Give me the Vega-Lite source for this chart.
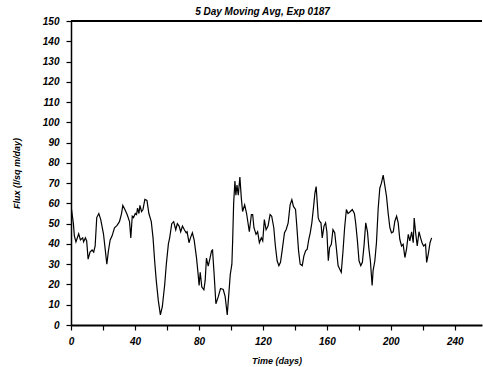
{
  "$schema": "https://vega.github.io/schema/vega-lite/v6.json",
  "autosize": {"type": "none"},
  "padding": {"left": 71, "top": 21, "right": 1, "bottom": 42},
  "width": 411,
  "height": 304,
  "background": "white",
  "title": {
    "text": "5 Day Moving Avg, Exp 0187",
    "font": "Liberation Sans",
    "fontSize": 10,
    "fontWeight": "bold",
    "fontStyle": "italic",
    "color": "black",
    "anchor": "middle",
    "dx": -14,
    "offset": -1
  },
  "config": {
    "view": {"stroke": null},
    "axis": {
      "domainColor": "black",
      "domainWidth": 1.5,
      "tickColor": "black",
      "tickWidth": 1.2,
      "tickSize": 5,
      "grid": false,
      "labelOverlap": false,
      "labelFlush": false,
      "labelFont": "Liberation Sans",
      "labelFontSize": 10,
      "labelFontWeight": "bold",
      "labelFontStyle": "italic",
      "labelColor": "black",
      "titleFont": "Liberation Sans",
      "titleFontSize": 9,
      "titleFontWeight": "bold",
      "titleFontStyle": "italic",
      "titleColor": "black"
    }
  },
  "data": {
    "values": [
      {"day": 0, "flux": 55}, {"day": 0.5, "flux": 56}, {"day": 1.5, "flux": 50},
      {"day": 2.1, "flux": 44}, {"day": 3.1, "flux": 41}, {"day": 4.8, "flux": 45},
      {"day": 5.9, "flux": 42}, {"day": 7.3, "flux": 43}, {"day": 7.9, "flux": 41},
      {"day": 9.0, "flux": 43}, {"day": 9.8, "flux": 41.5}, {"day": 10.7, "flux": 32.5},
      {"day": 11.9, "flux": 36}, {"day": 13.2, "flux": 37}, {"day": 14.2, "flux": 36},
      {"day": 15.1, "flux": 39}, {"day": 16.1, "flux": 53}, {"day": 17.4, "flux": 55},
      {"day": 18.6, "flux": 52}, {"day": 20.3, "flux": 45}, {"day": 21.5, "flux": 36.6},
      {"day": 22.4, "flux": 30}, {"day": 23.4, "flux": 36.6}, {"day": 24.5, "flux": 42},
      {"day": 25.7, "flux": 44}, {"day": 27.2, "flux": 48}, {"day": 28.7, "flux": 49},
      {"day": 30.3, "flux": 51}, {"day": 31.6, "flux": 55}, {"day": 32.4, "flux": 59},
      {"day": 33.7, "flux": 57}, {"day": 35.1, "flux": 54.5}, {"day": 36.6, "flux": 51},
      {"day": 37.4, "flux": 43}, {"day": 38.3, "flux": 53.7}, {"day": 39.1, "flux": 53},
      {"day": 40.2, "flux": 55}, {"day": 41.0, "flux": 54.5}, {"day": 41.6, "flux": 57.7},
      {"day": 42.5, "flux": 55}, {"day": 43.1, "flux": 59}, {"day": 44.1, "flux": 56},
      {"day": 45.0, "flux": 57}, {"day": 46.2, "flux": 62}, {"day": 47.5, "flux": 61.5},
      {"day": 48.7, "flux": 55}, {"day": 50.2, "flux": 51}, {"day": 51.3, "flux": 43},
      {"day": 52.3, "flux": 31.7}, {"day": 53.3, "flux": 22}, {"day": 54.6, "flux": 12},
      {"day": 55.9, "flux": 5}, {"day": 57.1, "flux": 9}, {"day": 58.6, "flux": 20},
      {"day": 59.6, "flux": 30}, {"day": 60.9, "flux": 40}, {"day": 61.7, "flux": 43},
      {"day": 63.0, "flux": 50}, {"day": 64.2, "flux": 51}, {"day": 65.5, "flux": 47},
      {"day": 66.5, "flux": 50}, {"day": 67.6, "flux": 48.8}, {"day": 68.6, "flux": 46},
      {"day": 69.7, "flux": 48.8}, {"day": 70.9, "flux": 47}, {"day": 72.0, "flux": 45.5},
      {"day": 72.6, "flux": 46}, {"day": 73.8, "flux": 40.6}, {"day": 74.7, "flux": 43},
      {"day": 75.9, "flux": 45.5}, {"day": 77.0, "flux": 42}, {"day": 78.5, "flux": 33},
      {"day": 79.5, "flux": 25}, {"day": 80.1, "flux": 19.5}, {"day": 80.8, "flux": 26},
      {"day": 81.8, "flux": 18.7}, {"day": 83.1, "flux": 17.4}, {"day": 83.9, "flux": 22},
      {"day": 84.7, "flux": 33}, {"day": 85.8, "flux": 29}, {"day": 86.8, "flux": 32.5},
      {"day": 87.9, "flux": 36.6}, {"day": 88.5, "flux": 37}, {"day": 89.5, "flux": 25},
      {"day": 90.6, "flux": 10.5}, {"day": 92.1, "flux": 14}, {"day": 93.5, "flux": 18},
      {"day": 95.2, "flux": 17.5}, {"day": 96.4, "flux": 14}, {"day": 97.7, "flux": 5},
      {"day": 98.7, "flux": 15.5}, {"day": 99.6, "flux": 25}, {"day": 100.6, "flux": 30},
      {"day": 101.1, "flux": 42}, {"day": 101.7, "flux": 60}, {"day": 102.5, "flux": 71},
      {"day": 103.1, "flux": 64}, {"day": 103.8, "flux": 69}, {"day": 104.6, "flux": 64},
      {"day": 105.6, "flux": 73}, {"day": 106.5, "flux": 62.6}, {"day": 107.3, "flux": 56},
      {"day": 108.6, "flux": 59.3}, {"day": 109.8, "flux": 55}, {"day": 111.5, "flux": 46},
      {"day": 112.8, "flux": 54.5}, {"day": 113.6, "flux": 54.5}, {"day": 114.4, "flux": 48},
      {"day": 115.7, "flux": 44.7}, {"day": 116.7, "flux": 46}, {"day": 117.8, "flux": 40.6},
      {"day": 119.0, "flux": 43}, {"day": 119.9, "flux": 41.5}, {"day": 120.9, "flux": 52},
      {"day": 122.0, "flux": 47}, {"day": 123.2, "flux": 48.8}, {"day": 124.5, "flux": 54.5},
      {"day": 125.5, "flux": 53.7}, {"day": 126.8, "flux": 48}, {"day": 127.8, "flux": 39},
      {"day": 128.9, "flux": 31.7}, {"day": 130.0, "flux": 29.3}, {"day": 131.0, "flux": 30.9},
      {"day": 132.0, "flux": 36.6}, {"day": 133.5, "flux": 45.5}, {"day": 134.5, "flux": 47},
      {"day": 135.8, "flux": 50.4}, {"day": 137.0, "flux": 59.3}, {"day": 138.1, "flux": 61.8},
      {"day": 139.1, "flux": 58.5}, {"day": 140.4, "flux": 57}, {"day": 141.2, "flux": 48.8},
      {"day": 142.3, "flux": 36.6}, {"day": 143.3, "flux": 30}, {"day": 144.6, "flux": 29.3},
      {"day": 145.6, "flux": 34}, {"day": 146.7, "flux": 36.6}, {"day": 147.7, "flux": 37.4},
      {"day": 148.7, "flux": 42.3}, {"day": 149.6, "flux": 45.5}, {"day": 150.6, "flux": 50.4},
      {"day": 151.9, "flux": 60}, {"day": 152.5, "flux": 65}, {"day": 153.3, "flux": 68.3},
      {"day": 154.0, "flux": 60}, {"day": 154.6, "flux": 52.8}, {"day": 155.4, "flux": 51.2},
      {"day": 156.3, "flux": 50.4}, {"day": 157.1, "flux": 43}, {"day": 158.2, "flux": 48.8},
      {"day": 159.2, "flux": 50.4}, {"day": 160.0, "flux": 46}, {"day": 160.9, "flux": 31.7},
      {"day": 161.7, "flux": 38.2}, {"day": 162.8, "flux": 39.8}, {"day": 163.8, "flux": 47},
      {"day": 164.9, "flux": 45.5}, {"day": 165.9, "flux": 38.2}, {"day": 167.0, "flux": 29.3},
      {"day": 168.0, "flux": 27.6}, {"day": 169.0, "flux": 26}, {"day": 170.1, "flux": 36.6},
      {"day": 171.1, "flux": 48}, {"day": 172.2, "flux": 57}, {"day": 173.2, "flux": 55},
      {"day": 174.7, "flux": 56}, {"day": 175.9, "flux": 57}, {"day": 177.2, "flux": 55},
      {"day": 178.0, "flux": 50.4}, {"day": 179.1, "flux": 41.5}, {"day": 180.1, "flux": 31.7},
      {"day": 181.2, "flux": 29.3}, {"day": 182.2, "flux": 30.9}, {"day": 183.3, "flux": 39.8},
      {"day": 184.3, "flux": 50.4}, {"day": 185.4, "flux": 46}, {"day": 186.2, "flux": 38.2},
      {"day": 187.2, "flux": 31.7}, {"day": 188.3, "flux": 19.5}, {"day": 188.9, "flux": 26.8},
      {"day": 190.0, "flux": 31.7}, {"day": 191.0, "flux": 40.6}, {"day": 192.1, "flux": 57.7},
      {"day": 193.1, "flux": 67.5}, {"day": 194.1, "flux": 70}, {"day": 195.2, "flux": 74},
      {"day": 196.0, "flux": 70}, {"day": 197.3, "flux": 63.4}, {"day": 198.3, "flux": 55.3},
      {"day": 199.4, "flux": 48}, {"day": 200.4, "flux": 45.5}, {"day": 201.5, "flux": 46},
      {"day": 202.5, "flux": 51.2}, {"day": 203.6, "flux": 53.7}, {"day": 204.6, "flux": 50.4},
      {"day": 205.6, "flux": 42.3}, {"day": 206.7, "flux": 39}, {"day": 207.7, "flux": 39.8},
      {"day": 208.8, "flux": 33.3}, {"day": 209.8, "flux": 37.4}, {"day": 210.9, "flux": 44.7},
      {"day": 211.9, "flux": 41.5}, {"day": 213.0, "flux": 46}, {"day": 214.0, "flux": 40.6},
      {"day": 214.6, "flux": 52.8}, {"day": 215.5, "flux": 45.5}, {"day": 216.5, "flux": 39},
      {"day": 217.6, "flux": 46}, {"day": 218.6, "flux": 43}, {"day": 219.5, "flux": 40.6},
      {"day": 220.5, "flux": 39}, {"day": 221.7, "flux": 39.8}, {"day": 222.4, "flux": 30.9},
      {"day": 223.4, "flux": 35}, {"day": 224.5, "flux": 40.6}, {"day": 225.5, "flux": 43}
    ]
  },
  "layer": [
    {
      "mark": {"type": "line", "color": "black", "strokeWidth": 1.2, "clip": true},
      "encoding": {
        "x": {
          "field": "day",
          "type": "quantitative",
          "scale": {"domain": [0, 257], "nice": false, "zero": false},
          "axis": {
            "title": "Time (days)",
            "values": [0, 20, 40, 60, 80, 100, 120, 140, 160, 180, 200, 220, 240],
            "labelExpr": "datum.value % 40 === 0 ? datum.label : ''",
            "labelPadding": 6,
            "titlePadding": 10,
            "domainWidth": 2
          }
        },
        "y": {
          "field": "flux",
          "type": "quantitative",
          "scale": {"domain": [0, 150], "nice": false},
          "axis": {
            "title": "Flux (l/sq m/day)",
            "values": [0, 10, 20, 30, 40, 50, 60, 70, 80, 90, 100, 110, 120, 130, 140, 150],
            "labelPadding": 7,
            "titlePadding": 21
          }
        }
      }
    },
    {
      "mark": {"type": "rule", "color": "black", "strokeWidth": 2},
      "encoding": {
        "y": {
          "datum": 150,
          "type": "quantitative",
          "axis": {
            "title": "Flux (l/sq m/day)",
            "values": [0, 10, 20, 30, 40, 50, 60, 70, 80, 90, 100, 110, 120, 130, 140, 150],
            "labelPadding": 7,
            "titlePadding": 21
          }
        }
      }
    }
  ]
}
